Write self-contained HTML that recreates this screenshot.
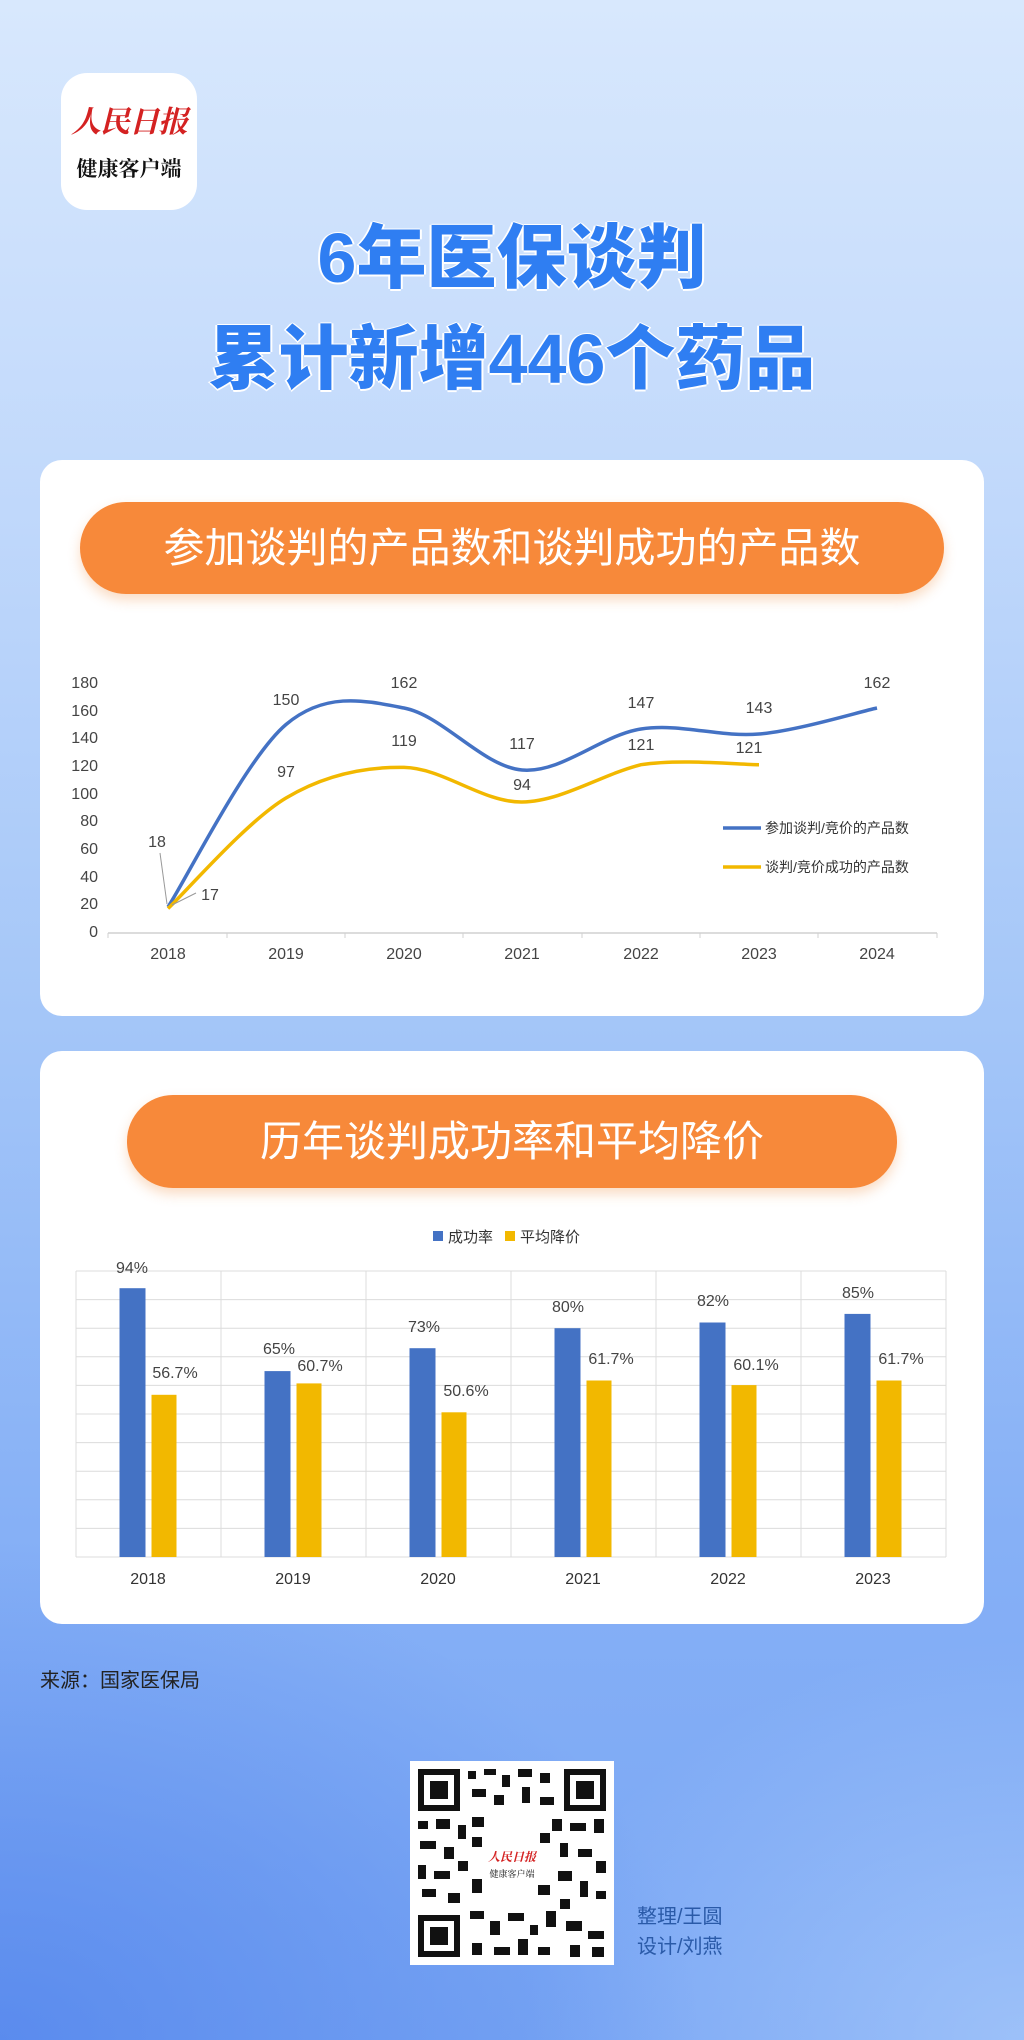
<!DOCTYPE html>
<html><head><meta charset="utf-8"><style>
*{margin:0;padding:0;box-sizing:border-box}
body{width:1024px;height:2040px;position:relative;overflow:hidden;font-family:"Liberation Sans","Noto Sans CJK SC",sans-serif;
background:linear-gradient(180deg,#d8e8fd 0%,#c0d8fb 25%,#a4c6f8 50%,#86b0f6 75%,#79a6f4 100%)}
.bg2{position:absolute;left:0;top:0;width:1024px;height:2040px;background:radial-gradient(ellipse 700px 500px at 0% 100%,rgba(80,130,235,0.75),rgba(80,130,235,0)),radial-gradient(ellipse 500px 400px at 100% 100%,rgba(180,210,252,0.6),rgba(180,210,252,0))}
.logo{position:absolute;left:61px;top:73px;width:136px;height:137px;background:#fff;border-radius:26px}
.logo .a{position:absolute;left:0;top:24px;width:136px;text-align:center;white-space:nowrap;font-family:"Noto Serif CJK SC",serif;font-style:italic;font-weight:bold;font-size:30px;color:#d42222;letter-spacing:-1px}
.logo .b{position:absolute;left:0;top:80px;width:136px;text-align:center;white-space:nowrap;font-family:"Noto Serif CJK SC",serif;font-weight:bold;font-size:21px;color:#111}
.title{position:absolute;left:0;width:1024px;text-align:center;font-weight:900;font-size:70px;color:#2f7ef2;line-height:1;text-shadow:0 2px 0 #fff,0 -1px 0 #fff,2px 0 0 #fff,-2px 0 0 #fff}
.card{position:absolute;left:40px;width:944px;background:#fff;border-radius:22px}
.pill{position:absolute;background:#f7893a;border-radius:46px;color:#fff;text-align:center;font-size:41px;white-space:nowrap;box-shadow:0 6px 12px rgba(240,140,60,0.3)}
.src{position:absolute;left:40px;top:1664px;font-size:20px;color:#222}
.cred{position:absolute;left:637px;font-size:20px;color:#2a5aa8}
.qr{position:absolute;left:410px;top:1761px;width:204px;height:204px;background:#fff}
</style></head><body>
<div class="bg2"></div>
<div class="logo"><div class="a">人民日报</div><div class="b">健康客户端</div></div>
<div class="title" style="top:223px">6年医保谈判</div>
<div class="title" style="top:324px">累计新增446个药品</div>

<div class="card" style="top:460px;height:556px"></div>
<div class="pill" style="left:80px;top:502px;width:864px;height:92px;line-height:92px">参加谈判的产品数和谈判成功的产品数</div>

<div class="card" style="top:1051px;height:573px"></div>
<div class="pill" style="left:127px;top:1095px;width:770px;height:93px;line-height:93px;font-size:42px">历年谈判成功率和平均降价</div>

<svg style="position:absolute;left:0;top:0" width="1024" height="2040" font-family="Liberation Sans, Noto Sans CJK SC, sans-serif">
<g font-size="16" fill="#444" text-anchor="end">
<text x="98" y="688">180</text><text x="98" y="716">160</text><text x="98" y="743">140</text><text x="98" y="771">120</text><text x="98" y="799">100</text><text x="98" y="826">80</text><text x="98" y="854">60</text><text x="98" y="882">40</text><text x="98" y="909">20</text><text x="98" y="937">0</text>
</g>
<line x1="108" y1="933" x2="937" y2="933" stroke="#d0d0d0" stroke-width="1.5"/>
<g stroke="#d0d0d0"><line x1="108" y1="933" x2="108" y2="938"/><line x1="227" y1="933" x2="227" y2="938"/><line x1="345" y1="933" x2="345" y2="938"/><line x1="463" y1="933" x2="463" y2="938"/><line x1="582" y1="933" x2="582" y2="938"/><line x1="700" y1="933" x2="700" y2="938"/><line x1="818" y1="933" x2="818" y2="938"/><line x1="937" y1="933" x2="937" y2="938"/></g>
<g font-size="16" fill="#444" text-anchor="middle">
<text x="168" y="959">2018</text><text x="286" y="959">2019</text><text x="404" y="959">2020</text><text x="522" y="959">2021</text><text x="641" y="959">2022</text><text x="759" y="959">2023</text><text x="877" y="959">2024</text>
</g>
<path d="M168,907 C187.7,876.6 246.7,757.7 286,724.5 C325.3,691.3 364.7,700.4 404,708 C443.3,715.6 482.5,766.5 522,770 C561.5,773.5 601.5,735 641,729 C680.5,723 719.7,737.5 759,734 C798.3,730.5 857.3,712.3 877,708" fill="none" stroke="#4472c4" stroke-width="3.5"/>
<path d="M168,908.5 C187.7,890.1 246.7,821.5 286,798 C325.3,774.5 364.7,766.7 404,767.4 C443.3,768.1 482.5,802.5 522,802 C561.5,801.5 601.5,774.5 641,764.7 C680.5,758.5 739.3,764.7 759,764.7" fill="none" stroke="#f2b800" stroke-width="3.5"/>
<line x1="160" y1="853" x2="167" y2="904" stroke="#999"/><line x1="196" y1="893" x2="172" y2="905" stroke="#999"/>
<g font-size="16" fill="#444" text-anchor="middle">
<text x="157" y="847">18</text><text x="286" y="705">150</text><text x="404" y="688">162</text><text x="522" y="749">117</text><text x="641" y="708">147</text><text x="759" y="713">143</text><text x="877" y="688">162</text>
<text x="210" y="900">17</text><text x="286" y="777">97</text><text x="404" y="746">119</text><text x="522" y="790">94</text><text x="641" y="750">121</text><text x="749" y="753">121</text>
</g>
<line x1="723" y1="828" x2="761" y2="828" stroke="#4472c4" stroke-width="3.5"/>
<line x1="723" y1="867" x2="761" y2="867" stroke="#f2b800" stroke-width="3.5"/>
<g font-size="14" fill="#333"><text x="765" y="833">参加谈判/竞价的产品数</text><text x="765" y="872">谈判/竞价成功的产品数</text></g>

<rect x="433" y="1231" width="10" height="10" fill="#4472c4"/><text x="448" y="1242" font-size="15" fill="#333">成功率</text>
<rect x="505" y="1231" width="10" height="10" fill="#f2b800"/><text x="520" y="1242" font-size="15" fill="#333">平均降价</text>
<g stroke="#dcdcdc" stroke-width="1">
<line x1="76" y1="1271" x2="946" y2="1271"/><line x1="76" y1="1299.6" x2="946" y2="1299.6"/><line x1="76" y1="1328.2" x2="946" y2="1328.2"/><line x1="76" y1="1356.8" x2="946" y2="1356.8"/><line x1="76" y1="1385.4" x2="946" y2="1385.4"/><line x1="76" y1="1414" x2="946" y2="1414"/><line x1="76" y1="1442.6" x2="946" y2="1442.6"/><line x1="76" y1="1471.2" x2="946" y2="1471.2"/><line x1="76" y1="1499.8" x2="946" y2="1499.8"/><line x1="76" y1="1528.4" x2="946" y2="1528.4"/><line x1="76" y1="1557" x2="946" y2="1557"/>
<line x1="76" y1="1271" x2="76" y2="1557"/><line x1="221" y1="1271" x2="221" y2="1557"/><line x1="366" y1="1271" x2="366" y2="1557"/><line x1="511" y1="1271" x2="511" y2="1557"/><line x1="656" y1="1271" x2="656" y2="1557"/><line x1="801" y1="1271" x2="801" y2="1557"/><line x1="946" y1="1271" x2="946" y2="1557"/>
</g>
<g fill="#4472c4">
<rect x="119.5" y="1288.2" width="26" height="268.8"/><rect x="264.5" y="1371.1" width="26" height="185.9"/><rect x="409.5" y="1348.2" width="26" height="208.8"/><rect x="554.5" y="1328.2" width="26" height="228.8"/><rect x="699.5" y="1322.5" width="26" height="234.5"/><rect x="844.5" y="1313.9" width="26" height="243.1"/>
</g>
<g fill="#f2b800">
<rect x="151.5" y="1394.8" width="25" height="162.2"/><rect x="296.5" y="1383.4" width="25" height="173.6"/><rect x="441.5" y="1412.3" width="25" height="144.7"/><rect x="586.5" y="1380.5" width="25" height="176.5"/><rect x="731.5" y="1385.1" width="25" height="171.9"/><rect x="876.5" y="1380.5" width="25" height="176.5"/>
</g>
<g font-size="16" fill="#444" text-anchor="middle">
<text x="132" y="1273">94%</text><text x="279" y="1354">65%</text><text x="424" y="1332">73%</text><text x="568" y="1312">80%</text><text x="713" y="1306">82%</text><text x="858" y="1298">85%</text>
<text x="175" y="1378">56.7%</text><text x="320" y="1371">60.7%</text><text x="466" y="1396">50.6%</text><text x="611" y="1364">61.7%</text><text x="756" y="1370">60.1%</text><text x="901" y="1364">61.7%</text>
</g>
<g font-size="16" fill="#333" text-anchor="middle">
<text x="148" y="1584">2018</text><text x="293" y="1584">2019</text><text x="438" y="1584">2020</text><text x="583" y="1584">2021</text><text x="728" y="1584">2022</text><text x="873" y="1584">2023</text>
</g>
</svg>

<div class="src">来源：国家医保局</div>
<div class="qr">
<svg width="204" height="204">
<g fill="#111">
<rect x="8" y="8" width="42" height="42"/><rect x="14" y="14" width="30" height="30" fill="#fff"/><rect x="20" y="20" width="18" height="18"/>
<rect x="154" y="8" width="42" height="42"/><rect x="160" y="14" width="30" height="30" fill="#fff"/><rect x="166" y="20" width="18" height="18"/>
<rect x="8" y="154" width="42" height="42"/><rect x="14" y="160" width="30" height="30" fill="#fff"/><rect x="20" y="166" width="18" height="18"/>
<rect x="58" y="10" width="8" height="8"/><rect x="74" y="8" width="12" height="6"/><rect x="92" y="14" width="8" height="12"/><rect x="108" y="8" width="14" height="8"/><rect x="130" y="12" width="10" height="10"/><rect x="62" y="28" width="14" height="8"/><rect x="84" y="34" width="10" height="10"/><rect x="112" y="26" width="8" height="16"/><rect x="130" y="36" width="14" height="8"/>
<rect x="8" y="60" width="10" height="8"/><rect x="26" y="58" width="14" height="10"/><rect x="48" y="64" width="8" height="14"/><rect x="10" y="80" width="16" height="8"/><rect x="34" y="86" width="10" height="12"/><rect x="8" y="104" width="8" height="14"/><rect x="24" y="110" width="16" height="8"/><rect x="48" y="100" width="10" height="10"/><rect x="12" y="128" width="14" height="8"/><rect x="38" y="132" width="12" height="10"/>
<rect x="62" y="56" width="12" height="10"/><rect x="142" y="58" width="10" height="12"/><rect x="160" y="62" width="16" height="8"/><rect x="184" y="58" width="10" height="14"/><rect x="150" y="82" width="8" height="14"/><rect x="168" y="88" width="14" height="8"/><rect x="186" y="100" width="10" height="12"/><rect x="148" y="110" width="14" height="10"/><rect x="170" y="120" width="8" height="16"/><rect x="186" y="130" width="10" height="8"/><rect x="150" y="138" width="10" height="10"/>
<rect x="60" y="150" width="14" height="8"/><rect x="80" y="160" width="10" height="14"/><rect x="98" y="152" width="16" height="8"/><rect x="120" y="164" width="8" height="10"/><rect x="136" y="150" width="10" height="16"/><rect x="62" y="182" width="10" height="12"/><rect x="84" y="186" width="16" height="8"/><rect x="108" y="178" width="10" height="16"/><rect x="128" y="186" width="12" height="8"/><rect x="156" y="160" width="16" height="10"/><rect x="178" y="170" width="16" height="8"/><rect x="160" y="184" width="10" height="12"/><rect x="182" y="186" width="12" height="10"/>
<rect x="62" y="76" width="10" height="10"/><rect x="62" y="118" width="10" height="14"/><rect x="130" y="72" width="10" height="10"/><rect x="128" y="124" width="12" height="10"/>
</g>
<rect x="76" y="70" width="52" height="64" fill="#fff"/>
<text x="102" y="100" text-anchor="middle" font-family="Noto Serif CJK SC,serif" font-style="italic" font-weight="bold" font-size="12" fill="#d42222">人民日报</text>
<text x="102" y="116" text-anchor="middle" font-family="Noto Serif CJK SC,serif" font-size="9" fill="#111">健康客户端</text>
</svg>
</div>
<div class="cred" style="top:1900px">整理/王圆</div>
<div class="cred" style="top:1930px">设计/刘燕</div>
</body></html>
